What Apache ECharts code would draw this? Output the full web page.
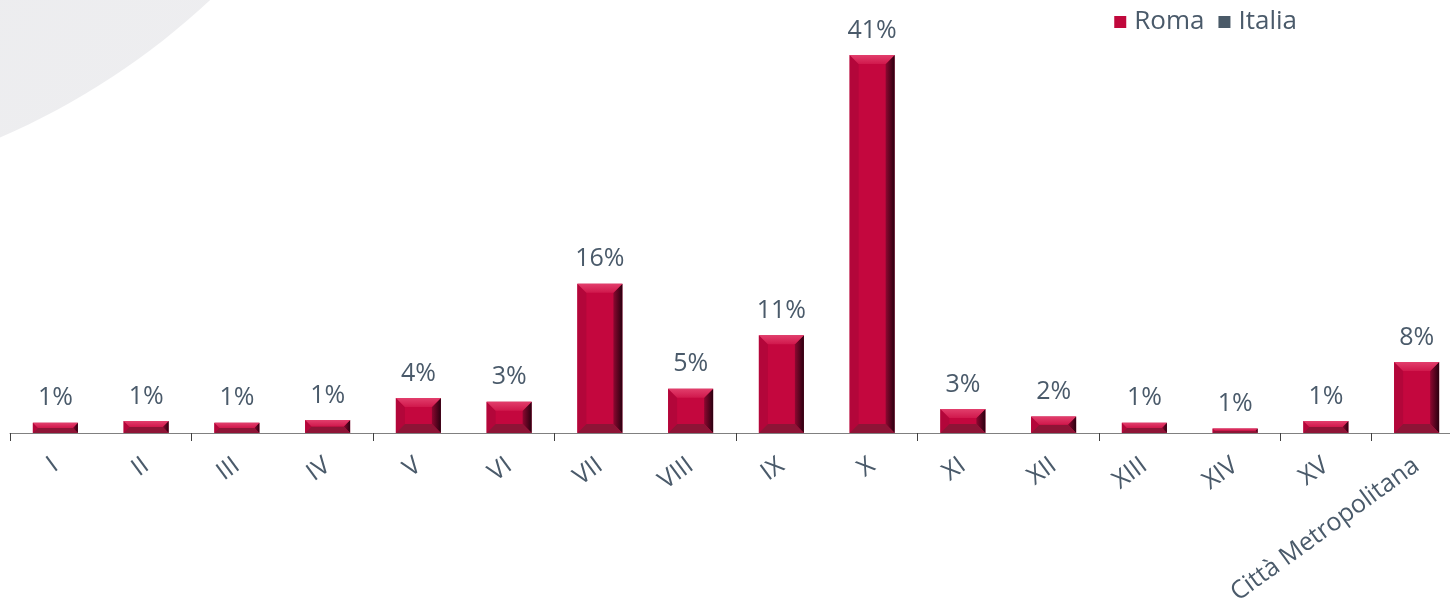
<!DOCTYPE html>
<html>
<head>
<meta charset="utf-8">
<script src="https://cdn.jsdelivr.net/npm/echarts@6/dist/echarts.min.js"></script>
<style>
  html, body { margin: 0; padding: 0; background: #fff; overflow: hidden; }
  /* plot runs a little past the right edge of the window, like the original */
  #chart { width: 1462px; height: 613px; }
</style>
</head>
<body>
<div id="chart"></div>
<script>
// municipi of Roma + the metropolitan city
const categories = ['I', 'II', 'III', 'IV', 'V', 'VI', 'VII', 'VIII', 'IX', 'X',
  'XI', 'XII', 'XIII', 'XIV', 'XV', 'Città Metropolitana']
// share in %
const romaValues = [1.1, 1.3, 1.1, 1.4, 3.8, 3.4, 16.2, 4.8, 10.6, 41.0,
  2.6, 1.8, 1.1, 0.5, 1.3, 7.7]
// Italia appears only in the legend
const italiaValues = categories.map(() => '-')

const textColor = '#4a5a6a'
const fontFamily = '"Open Sans", sans-serif'
const BAR_W = 45

const chart = echarts.init(document.getElementById('chart'))

// bevel edges drawn over each Roma bar (Excel-style "bevel" look)
function renderBevel(params, api) {
  const top = api.coord([api.value(0), api.value(1)])
  const base = api.coord([api.value(0), 0])
  const l = top[0] - BAR_W / 2, r = top[0] + BAR_W / 2
  const t = top[1], b = base[1]
  const s = Math.min(9, (b - t) / 2)
  const poly = (points, fill) => ({ type: 'polygon', shape: { points }, style: { fill } })
  return {
    type: 'group',
    children: [
      poly([[l, t], [l + s, t + s], [l + s, b - s], [l, b]], '#b3063a'),
      poly([[r, t], [r, b], [r - s, b - s], [r - s, t + s]],
        new echarts.graphic.LinearGradient(0, 0, 1, 0, [
          { offset: 0, color: '#8c0830' }, { offset: 1, color: '#2a0010' }
        ])),
      poly([[l, b], [r, b], [r - s, b - s], [l + s, b - s]], '#8e1436'),
      poly([[l, t], [r, t], [r - s, t + s], [l + s, t + s]],
        new echarts.graphic.LinearGradient(0, 0, 0, 1, [
          { offset: 0, color: '#e23e6c' }, { offset: 1, color: '#d0184c' }
        ]))
    ]
  }
}

chart.setOption({
  animation: false,
  textStyle: { fontFamily },
  graphic: [
    {
      type: 'ellipse',
      z: -10,
      shape: { cx: -300, cy: -500, rx: 730, ry: 699 },
      style: {
        fill: new echarts.graphic.LinearGradient(0, 0, 1, 1, [
          { offset: 0, color: '#e4e5e8' },
          { offset: 1, color: '#efeff1' }
        ])
      }
    }
  ],
  legend: {
    top: 4,
    right: 160,
    itemWidth: 12,
    itemHeight: 12,
    itemGap: 14,
    icon: 'rect',
    textStyle: { color: textColor, fontSize: 26, fontFamily, padding: [0, 0, 0, 3] },
    data: [
      { name: 'Roma', itemStyle: { color: '#c0083c' } },
      { name: 'Italia', itemStyle: { color: '#4a5a68' } }
    ]
  },
  grid: { left: 10, right: 0, top: 9, bottom: 180, containLabel: false },
  xAxis: {
    type: 'category',
    data: categories,
    axisLine: { show: true, lineStyle: { color: '#808080', width: 1 } },
    axisTick: { show: true, interval: 1, length: 8, lineStyle: { color: '#404040' } },
    axisLabel: {
      interval: 0,
      rotate: 36,
      margin: 30,
      color: textColor,
      fontSize: 25,
      fontFamily
    }
  },
  yAxis: {
    type: 'value',
    min: 0,
    max: 46,
    show: false,
    splitLine: { show: false }
  },
  series: [
    {
      name: 'Roma',
      type: 'bar',
      data: romaValues,
      barWidth: BAR_W,
      itemStyle: { color: '#c4073e' },
      label: {
        show: true,
        position: 'top',
        distance: 12,
        color: textColor,
        fontSize: 25,
        fontFamily,
        formatter: p => Math.round(p.value) + '%'
      }
    },
    {
      name: 'Italia',
      type: 'bar',
      data: italiaValues,
      barWidth: BAR_W,
      barGap: '-100%',
      itemStyle: { color: '#4a5a68' }
    },
    {
      name: 'bevel',
      type: 'custom',
      silent: true,
      z: 3,
      renderItem: renderBevel,
      data: romaValues.map((v, i) => [i, v])
    }
  ]
})
</script>
</body>
</html>
